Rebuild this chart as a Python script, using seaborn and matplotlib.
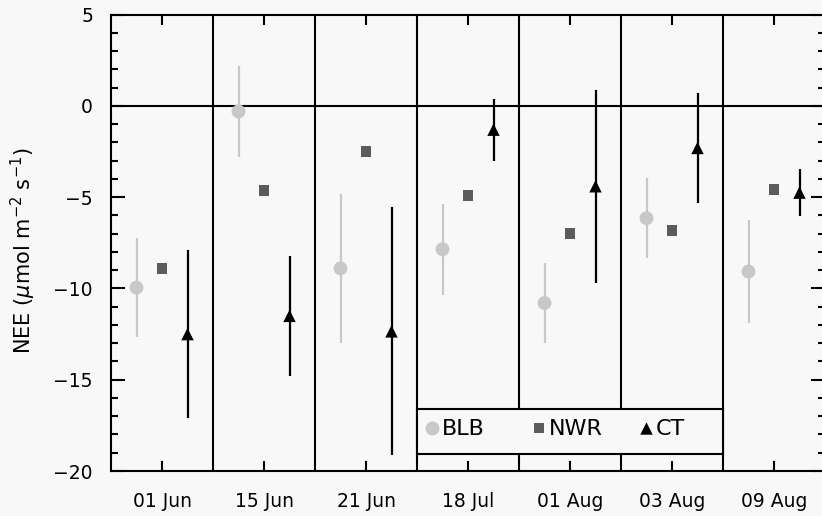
import numpy as np
import pandas as pd
import matplotlib
matplotlib.use("Agg")
import matplotlib.pyplot as plt
from matplotlib.patches import Rectangle
from matplotlib.ticker import MultipleLocator
import seaborn as sns

# Campaign dates and net ecosystem exchange per method
dates = ["01 Jun", "15 Jun", "21 Jun", "18 Jul", "01 Aug", "03 Aug", "09 Aug"]
blb = [-9.95, -0.3, -8.9, -7.85, -10.8, -6.15, -9.07]
blb_err = [2.7, 2.5, 4.1, 2.5, 2.2, 2.2, 2.8]
nwr = [-8.9, -4.65, -2.47, -4.93, -6.97, -6.83, -4.57]
ct = [-12.5, -11.5, -12.35, -1.3, -4.4, -2.3, -4.75]
ct_err = [4.6, 3.3, 6.8, 1.7, 5.3, 3.0, 1.27]

sites = ["BLB", "NWR", "CT"]
offsets = {"BLB": -0.25, "NWR": 0.0, "CT": 0.25}
colors = {"BLB": "#c8c8c8", "NWR": "#5c5c5c", "CT": "#000000"}
markers = {"BLB": "o", "NWR": "s", "CT": "^"}
sizes = {"BLB": 100, "NWR": 62, "CT": 80}

rows = []
for site, vals, errs in [("BLB", blb, blb_err),
                         ("NWR", nwr, [np.nan] * len(nwr)),
                         ("CT", ct, ct_err)]:
    for i, (v, e) in enumerate(zip(vals, errs)):
        rows.append({"date": dates[i], "site": site,
                     "x": i + 0.5 + offsets[site], "value": v, "err": e})
df = pd.DataFrame(rows)

BG = "#f8f8f8"
sns.set_style("ticks")
plt.rcParams["font.family"] = ["DejaVu Sans"]
plt.rcParams["axes.linewidth"] = 1.5
plt.rcParams["text.color"] = "black"
plt.rcParams["axes.labelcolor"] = "black"
plt.rcParams["xtick.color"] = "black"
plt.rcParams["ytick.color"] = "black"

fig = plt.figure(figsize=(8.22, 5.16), dpi=100, facecolor=BG)
ax = fig.add_axes([111 / 822, 45 / 516, 714 / 822, 456.3 / 516], facecolor=BG)
ax.set_xlim(0, len(dates))
ax.set_ylim(-20, 5)

# panel separators and zero line
for b in range(1, len(dates)):
    ax.axvline(b, color="k", lw=1.5, zorder=1)
ax.axhline(0, color="k", lw=1.5, zorder=1)

# error bars
for site in ["BLB", "CT"]:
    d = df[df.site == site]
    ax.vlines(d.x, d.value - d.err, d.value + d.err,
              color=colors[site], lw=1.6, zorder=2)

sns.scatterplot(data=df, x="x", y="value", hue="site", style="site", size="site",
                palette=colors, markers=markers, sizes=sizes, hue_order=sites,
                style_order=sites, size_order=sites, linewidth=0,
                legend=False, ax=ax, zorder=3)

# boxed key
ax.add_patch(Rectangle((3, -19.07), 3, 2.48, facecolor=BG, edgecolor="k",
                       lw=1.5, zorder=4))
key_x = {"BLB": 3.147, "NWR": 4.196, "CT": 5.245}
for site in sites:
    ax.scatter([key_x[site]], [-17.62], marker=markers[site], s=sizes[site],
               color=colors[site], linewidth=0, zorder=5)
    ax.text(key_x[site] + 0.1, -18.02, site, fontsize=16, va="baseline",
            ha="left", color="black", zorder=5)

# axes styling
ax.yaxis.set_major_locator(MultipleLocator(5))
ax.yaxis.set_minor_locator(MultipleLocator(1))
ax.tick_params(axis="y", which="major", direction="in", length=10, width=1.5,
               left=True, right=True, labelsize=13.5, pad=13, colors="k",
               labelcolor="black")
ax.tick_params(axis="y", which="minor", direction="in", length=5, width=1.5,
               left=True, right=True)
ax.set_xticks(np.arange(len(dates)) + 0.5)
ax.set_xticklabels(dates)
ax.tick_params(axis="x", which="major", direction="in", length=7, width=1.5,
               top=True, bottom=True, labelsize=13.5, pad=15, colors="k",
               labelcolor="black")
ax.tick_params(axis="x", which="minor", bottom=False, top=False)
for sp in ax.spines.values():
    sp.set_visible(True)
    sp.set_color("k")
    sp.set_linewidth(1.5)

ax.set_xlabel("")
ax.set_ylabel(r"NEE ($\mu$mol m$^{-2}$ s$^{-1}$)", fontsize=15, color="black")
ax.yaxis.set_label_coords(-0.102, 0.482)

fig.savefig("out.png", dpi=100, facecolor=BG)
